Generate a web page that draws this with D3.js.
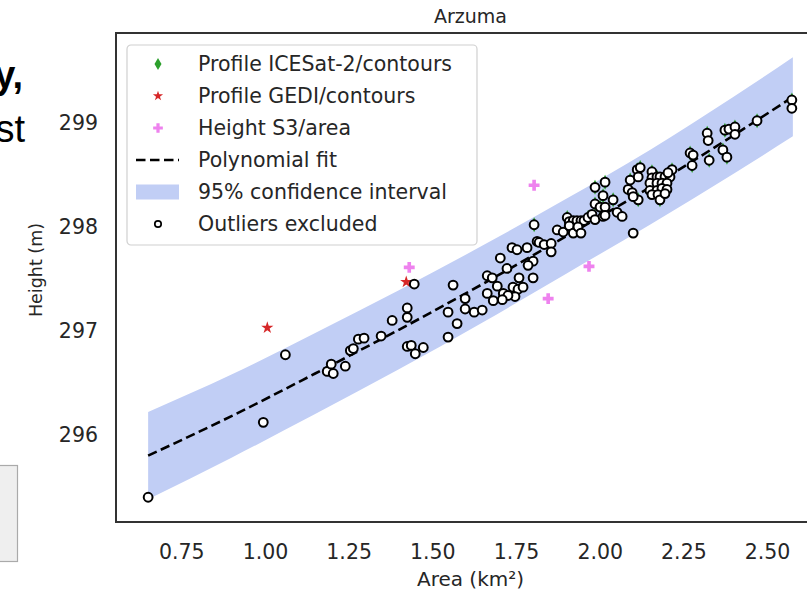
<!DOCTYPE html>
<html>
<head>
<meta charset="utf-8">
<script src="https://cdn.jsdelivr.net/npm/d3@7"></script>
<style>
  html, body { margin: 0; padding: 0; background: #fff; }
  svg { display: block; }
  text { font-family: "DejaVu Sans", sans-serif; }
</style>
</head>
<body>
<svg id="chart" width="807" height="590"></svg>
<script>
// Polynomial fit and its 95% confidence band, sampled along the area axis
const fitArea   = [0.651, 0.90, 1.15, 1.40, 1.65, 1.90, 2.15, 2.40, 2.577];
const fitHeight = [295.80, 296.18, 296.59, 297.01, 297.45, 297.91, 298.38, 298.88, 299.25];
const ciUpper   = [296.22, 296.58, 296.98, 297.39, 297.82, 298.27, 298.74, 299.25, 299.63];
const ciLower   = [295.38, 295.78, 296.20, 296.63, 297.08, 297.55, 298.02, 298.51, 298.87];

// Points marked as outliers and excluded from the fit
const outlierArea = [
  0.651, 0.995, 1.061, 1.186, 1.198, 1.204, 1.240, 1.255, 1.264, 1.279, 1.296, 1.347, 1.380,
  1.425, 1.425, 1.425, 1.437, 1.449, 1.473, 1.446, 1.547, 1.547, 1.562, 1.574, 1.598, 1.598,
  1.625, 1.649, 1.664, 1.679, 1.664, 1.694, 1.712, 1.741, 1.756, 1.771, 1.747, 1.726, 1.709,
  1.682, 1.703, 1.723, 1.738, 1.753, 1.783, 1.801, 1.786, 1.759, 1.801, 1.804, 1.813, 1.819,
  1.834, 1.855, 1.855, 1.873, 1.891, 1.903, 1.909, 1.921, 1.932, 1.944, 1.953, 1.965, 1.977,
  1.909, 1.921, 1.935, 1.944, 1.986, 2.010, 1.986, 2.001, 2.010, 2.016, 2.040, 1.986, 2.016,
  2.016, 2.052, 2.067, 2.091, 2.085, 2.112, 2.121, 2.115, 2.097, 2.115, 2.100, 2.100, 2.156,
  2.156, 2.171, 2.180, 2.195, 2.210, 2.150, 2.171, 2.186, 2.201, 2.150, 2.171, 2.186, 2.201,
  2.156, 2.174, 2.180, 2.195, 2.216, 2.204, 2.270, 2.279, 2.276, 2.321, 2.324, 2.327, 2.368,
  2.380, 2.374, 2.386, 2.404, 2.404, 2.470, 2.574, 2.574
];
const outlierHeight = [
  295.40, 296.12, 296.77, 296.61, 296.68, 296.59, 296.66, 296.81, 296.83, 296.92, 296.93, 296.95, 297.10,
  297.22, 297.13, 296.85, 296.86, 296.78, 296.84, 297.45, 297.18, 296.94, 297.44, 297.07, 297.31, 297.21,
  297.18, 297.20, 297.53, 297.51, 297.36, 297.43, 297.36, 297.42, 297.40, 297.42, 297.33, 297.34, 297.30,
  297.29, 297.70, 297.60, 297.80, 297.78, 297.80, 297.67, 297.63, 297.51, 297.51, 298.02, 297.86, 297.85,
  297.83, 297.84, 297.76, 297.97, 297.95, 298.09, 298.05, 298.06, 298.06, 298.06, 298.06, 298.09, 298.12,
  298.01, 297.94, 298.00, 297.94, 298.07, 298.10, 298.22, 298.19, 298.30, 298.19, 298.26, 298.38, 298.43,
  298.11, 298.14, 298.10, 298.45, 298.36, 298.55, 298.57, 298.48, 298.33, 298.26, 298.29, 297.94, 298.53,
  298.47, 298.48, 298.48, 298.48, 298.48, 298.42, 298.42, 298.42, 298.42, 298.35, 298.35, 298.37, 298.36,
  298.31, 298.31, 298.26, 298.32, 298.55, 298.52, 298.71, 298.69, 298.59, 298.90, 298.83, 298.64, 298.74,
  298.67, 298.93, 298.94, 298.96, 298.89, 299.02, 299.22, 299.14
];

// Profile ICESat-2 / contours
const icesatArea   = [1.804, 1.903, 1.965, 1.986, 1.986, 2.001, 2.010, 2.016, 2.040, 2.091, 2.112, 2.115, 2.121, 2.156,
                      2.171, 2.180, 2.210, 2.216, 2.270, 2.276, 2.321, 2.327, 2.368, 2.374, 2.380, 2.404, 2.470, 2.574];
const icesatHeight = [298.02, 298.09, 298.09, 298.38, 298.22, 298.19, 298.30, 298.43, 298.26, 298.45, 298.55, 298.26, 298.57, 298.53,
                      298.48, 298.26, 298.48, 298.55, 298.71, 298.59, 298.90, 298.64, 298.74, 298.93, 298.67, 298.96, 299.02, 299.22];

// Profile GEDI / contours
const gediArea   = [1.007, 1.422];
const gediHeight = [297.03, 297.47];

// Height S3 / area
const s3Area   = [1.431, 1.804, 1.968, 1.846];
const s3Height = [297.61, 298.40, 297.62, 297.31];

// Axis ticks
const xTicks = [0.75, 1.00, 1.25, 1.50, 1.75, 2.00, 2.25, 2.50];
const yTicks = [296, 297, 298, 299];

const legendLabels = [
  "Profile ICESat-2/contours",
  "Profile GEDI/contours",
  "Height S3/area",
  "Polynomial fit",
  "95% confidence interval",
  "Outliers excluded"
];

const colors = {
  icesat: "#2ca02c",
  gedi: "#d62728",
  s3: "#ee82ee",
  band: "rgb(193,206,245)",
  frame: "#333",
  text: "#262626"
};

const svg = d3.select("#chart");
const plot = { left: 116, top: 33, right: 825, bottom: 522 };

const x = d3.scaleLinear().domain([0.555, 2.673]).range([plot.left, plot.right]);
const y = d3.scaleLinear().domain([295.162, 299.864]).range([plot.bottom, plot.top]);

// Neighbouring slide content at the left edge
svg.append("text").attr("x", 23).attr("y", 88).attr("text-anchor", "end")
  .style("font-family", "'Liberation Sans', Arial, sans-serif").style("font-weight", "bold")
  .style("font-size", "38px").attr("fill", "#000").text("y,");
svg.append("text").attr("x", 25).attr("y", 142).attr("text-anchor", "end")
  .style("font-family", "'Liberation Sans', Arial, sans-serif")
  .style("font-size", "38px").attr("fill", "#000").text("st");
svg.append("rect").attr("x", -2).attr("y", 465.5).attr("width", 19.5).attr("height", 96)
  .attr("fill", "#efefef").attr("stroke", "#aaa").attr("stroke-width", 1.2);

const defs = svg.append("defs");
defs.append("clipPath").attr("id", "plotClip").append("rect")
  .attr("x", plot.left).attr("y", plot.top)
  .attr("width", plot.right - plot.left).attr("height", plot.bottom - plot.top);

const g = svg.append("g").attr("clip-path", "url(#plotClip)");

// Confidence band
const bandData = fitArea.map((a, i) => ({ a, lo: ciLower[i], hi: ciUpper[i] }));
g.append("path")
  .datum(bandData)
  .attr("fill", colors.band)
  .attr("d", d3.area().x(d => x(d.a)).y0(d => y(d.lo)).y1(d => y(d.hi)).curve(d3.curveMonotoneX));

// Thin diamond marker path
function thinDiamond(w, h) {
  return `M0,${-h / 2}L${w / 2},0L0,${h / 2}L${-w / 2},0Z`;
}

// ICESat-2 points
g.append("g").selectAll("path")
  .data(icesatArea.map((a, i) => [a, icesatHeight[i]]))
  .join("path")
  .attr("transform", d => `translate(${x(d[0])},${y(d[1])})`)
  .attr("d", thinDiamond(7.5, 15))
  .attr("fill", colors.icesat);

// GEDI points
g.append("g").selectAll("path")
  .data(gediArea.map((a, i) => [a, gediHeight[i]]))
  .join("path")
  .attr("transform", d => `translate(${x(d[0])},${y(d[1])})`)
  .attr("d", d3.symbol(d3.symbolStar, 46)())
  .attr("fill", colors.gedi);

// S3 points
g.append("g").selectAll("path")
  .data(s3Area.map((a, i) => [a, s3Height[i]]))
  .join("path")
  .attr("transform", d => `translate(${x(d[0])},${y(d[1])})`)
  .attr("d", d3.symbol(d3.symbolCross, 66)())
  .attr("fill", colors.s3);

// Polynomial fit
g.append("path")
  .datum(fitArea.map((a, i) => [a, fitHeight[i]]))
  .attr("fill", "none")
  .attr("stroke", "#000")
  .attr("stroke-width", 2.6)
  .attr("stroke-dasharray", "9.5,4.5")
  .attr("d", d3.line().x(d => x(d[0])).y(d => y(d[1])).curve(d3.curveMonotoneX));

// Outliers
g.append("g").selectAll("circle")
  .data(outlierArea.map((a, i) => [a, outlierHeight[i]]))
  .join("circle")
  .attr("cx", d => x(d[0]))
  .attr("cy", d => y(d[1]))
  .attr("r", 4.4)
  .attr("fill", "#fff")
  .attr("stroke", "#000")
  .attr("stroke-width", 2);

// Axes (labels only, no tick marks)
const xAxis = svg.append("g")
  .attr("transform", `translate(0,${plot.bottom})`)
  .call(d3.axisBottom(x).tickValues(xTicks).tickSize(0).tickPadding(22).tickFormat(d3.format(".2f")));
const yAxis = svg.append("g")
  .attr("transform", `translate(${plot.left},0)`)
  .call(d3.axisLeft(y).tickValues(yTicks).tickSize(0).tickPadding(18).tickFormat(d3.format("d")));
[xAxis, yAxis].forEach(ax => {
  ax.select(".domain").remove();
  ax.selectAll("text")
    .style("font-family", "'DejaVu Sans', sans-serif")
    .style("font-size", "20.5px")
    .attr("fill", colors.text);
});

// Frame
svg.append("path")
  .attr("d", `M${plot.right},${plot.top}H${plot.left}V${plot.bottom}H${plot.right}`)
  .attr("fill", "none")
  .attr("stroke", colors.frame)
  .attr("stroke-width", 2);

// Titles
svg.append("text").attr("x", (plot.left + plot.right) / 2).attr("y", 23)
  .attr("text-anchor", "middle").style("font-size", "19px").attr("fill", colors.text).text("Arzuma");
svg.append("text").attr("x", (plot.left + plot.right) / 2).attr("y", 586)
  .attr("text-anchor", "middle").style("font-size", "20px").attr("fill", colors.text).text("Area (km²)");
svg.append("text").attr("transform", "translate(42,270) rotate(-90)")
  .attr("text-anchor", "middle").style("font-size", "17.5px").attr("fill", colors.text).text("Height (m)");

// Legend
const lg = svg.append("g").attr("transform", "translate(127,45)");
lg.append("rect").attr("x", 0).attr("y", 0).attr("width", 350).attr("height", 200)
  .attr("rx", 4).attr("fill", "#fff").attr("fill-opacity", 0.85)
  .attr("stroke", "#d0d0d0").attr("stroke-width", 1.2);

const rowY = i => 19 + i * 32;
const mx = 31;
lg.append("path").attr("transform", `translate(${mx},${rowY(0)})`).attr("d", thinDiamond(7, 12)).attr("fill", colors.icesat);
lg.append("path").attr("transform", `translate(${mx},${rowY(1)})`).attr("d", d3.symbol(d3.symbolStar, 32)()).attr("fill", colors.gedi);
lg.append("path").attr("transform", `translate(${mx},${rowY(2)})`).attr("d", d3.symbol(d3.symbolCross, 52)()).attr("fill", colors.s3);
lg.append("line").attr("x1", 9).attr("x2", 52).attr("y1", rowY(3)).attr("y2", rowY(3))
  .attr("stroke", "#000").attr("stroke-width", 2.6).attr("stroke-dasharray", "9.5,4.5");
lg.append("rect").attr("x", 9).attr("y", rowY(4) - 7.5).attr("width", 43).attr("height", 15).attr("fill", colors.band);
lg.append("circle").attr("cx", mx).attr("cy", rowY(5)).attr("r", 3.2)
  .attr("fill", "#fff").attr("stroke", "#000").attr("stroke-width", 1.7);

lg.selectAll("text.lbl")
  .data(legendLabels)
  .join("text")
  .attr("class", "lbl")
  .attr("x", 71)
  .attr("y", (d, i) => rowY(i))
  .attr("dy", "0.36em")
  .style("font-size", "20.5px")
  .attr("fill", colors.text)
  .text(d => d);
</script>
</body>
</html>
